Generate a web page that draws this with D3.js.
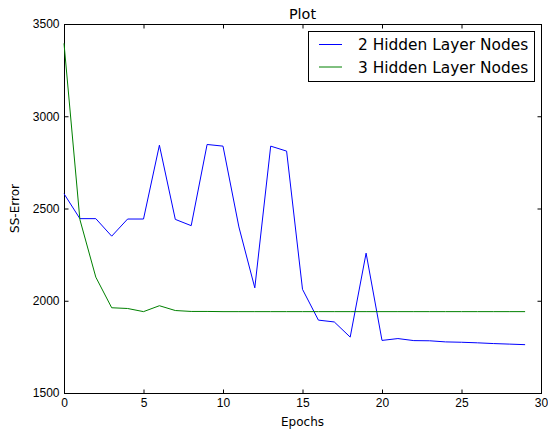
<!DOCTYPE html>
<html>
<head>
<meta charset="utf-8">
<script src="https://cdn.jsdelivr.net/npm/d3@7"></script>
<style>
  body { margin: 0; background: #fff; }
  svg { font-family: "DejaVu Sans", sans-serif; }
  .domain { display: none; }
</style>
</head>
<body>
<div id="chart"></div>
<script>
"use strict";

const epochs = d3.range(0, 30);
const twoNodes = [2580, 2445, 2445, 2350, 2443, 2443, 2843, 2441, 2407, 2847,
  2838, 2400, 2070, 2838, 2811, 2062, 1895, 1885, 1803, 2258,
  1785, 1795, 1784, 1783, 1777, 1775, 1772, 1768, 1765, 1762];
const threeNodes = [3395, 2440, 2128, 1962, 1958, 1941, 1973, 1947, 1942, 1942,
  1941, 1941, 1941, 1941, 1941, 1941, 1941, 1941, 1941, 1941,
  1941, 1941, 1941, 1941, 1941, 1941, 1941, 1941, 1941, 1941];
const seriesNames = ["2 Hidden Layer Nodes", "3 Hidden Layer Nodes"];
const seriesColors = ["#0000ff", "#008000"];
const xTicks = [0, 5, 10, 15, 20, 25, 30];
const yTicks = [1500, 2000, 2500, 3000, 3500];

function drawChart() {
  const width = 548,
    height = 431;
  const plot = { left: 64, right: 541, top: 24, bottom: 393 };

  const x = d3.scaleLinear().domain([0, 30]).range([plot.left, plot.right]);
  const y = d3.scaleLinear().domain([1500, 3500]).range([plot.bottom, plot.top]);

  const svg = d3
    .select("#chart")
    .append("svg")
    .attr("width", width)
    .attr("height", height);

  // ticks point inward on all four sides
  svg
    .append("g")
    .attr("transform", "translate(0," + (plot.bottom + 0.5) + ")")
    .call(d3.axisBottom(x).tickValues(xTicks).tickFormat(d3.format("d")).tickSizeInner(-4).tickSizeOuter(0).tickPadding(5))
    .call((g) => g.selectAll("text").attr("font-size", 12).attr("fill", "#000"));
  svg
    .append("g")
    .attr("transform", "translate(0," + (plot.top + 0.5) + ")")
    .call(d3.axisTop(x).tickValues(xTicks).tickSizeInner(-4).tickSizeOuter(0).tickFormat(""));
  svg
    .append("g")
    .attr("transform", "translate(" + (plot.left + 0.5) + ",0)")
    .call(d3.axisLeft(y).tickValues(yTicks).tickFormat(d3.format("d")).tickSizeInner(-4).tickSizeOuter(0).tickPadding(5))
    .call((g) => g.selectAll("text").attr("font-size", 12).attr("fill", "#000"));
  svg
    .append("g")
    .attr("transform", "translate(" + (plot.right + 0.5) + ",0)")
    .call(d3.axisRight(y).tickValues(yTicks).tickSizeInner(-4).tickSizeOuter(0).tickFormat(""));

  svg
    .append("rect")
    .attr("x", plot.left + 0.5)
    .attr("y", plot.top + 0.5)
    .attr("width", plot.right - plot.left)
    .attr("height", plot.bottom - plot.top)
    .attr("fill", "none")
    .attr("stroke", "#000")
    .attr("stroke-width", 1);

  const line = d3
    .line()
    .x((d, i) => x(epochs[i]))
    .y((d) => y(d));

  [twoNodes, threeNodes].forEach((vals, k) => {
    svg
      .append("path")
      .datum(vals)
      .attr("d", line)
      .attr("fill", "none")
      .attr("stroke", seriesColors[k])
      .attr("stroke-width", 1);
  });

  svg
    .append("text")
    .attr("x", (plot.left + plot.right) / 2)
    .attr("y", 18.5)
    .attr("text-anchor", "middle")
    .attr("font-size", 14.4)
    .text("Plot");

  svg
    .append("text")
    .attr("x", (plot.left + plot.right) / 2)
    .attr("y", 426)
    .attr("text-anchor", "middle")
    .attr("font-size", 12)
    .text("Epochs");

  svg
    .append("text")
    .attr("transform", "translate(19," + (plot.top + plot.bottom) / 2 + ") rotate(-90)")
    .attr("text-anchor", "middle")
    .attr("font-size", 12)
    .text("SS-Error");

  // legend
  const legend = svg.append("g");
  legend
    .append("rect")
    .attr("x", 308.5)
    .attr("y", 31.5)
    .attr("width", 226)
    .attr("height", 50)
    .attr("fill", "#fff")
    .attr("stroke", "#000")
    .attr("stroke-width", 1);

  seriesNames.forEach((name, k) => {
    const ly = 44.5 + k * 22.5;
    legend
      .append("line")
      .attr("x1", 319)
      .attr("x2", 342)
      .attr("y1", ly)
      .attr("y2", ly)
      .attr("stroke", seriesColors[k])
      .attr("stroke-width", 1);
    legend
      .append("text")
      .attr("x", 358)
      .attr("y", ly)
      .attr("dy", "0.36em")
      .attr("font-size", 15.4)
      .text(name);
  });
}

drawChart();
</script>
</body>
</html>
